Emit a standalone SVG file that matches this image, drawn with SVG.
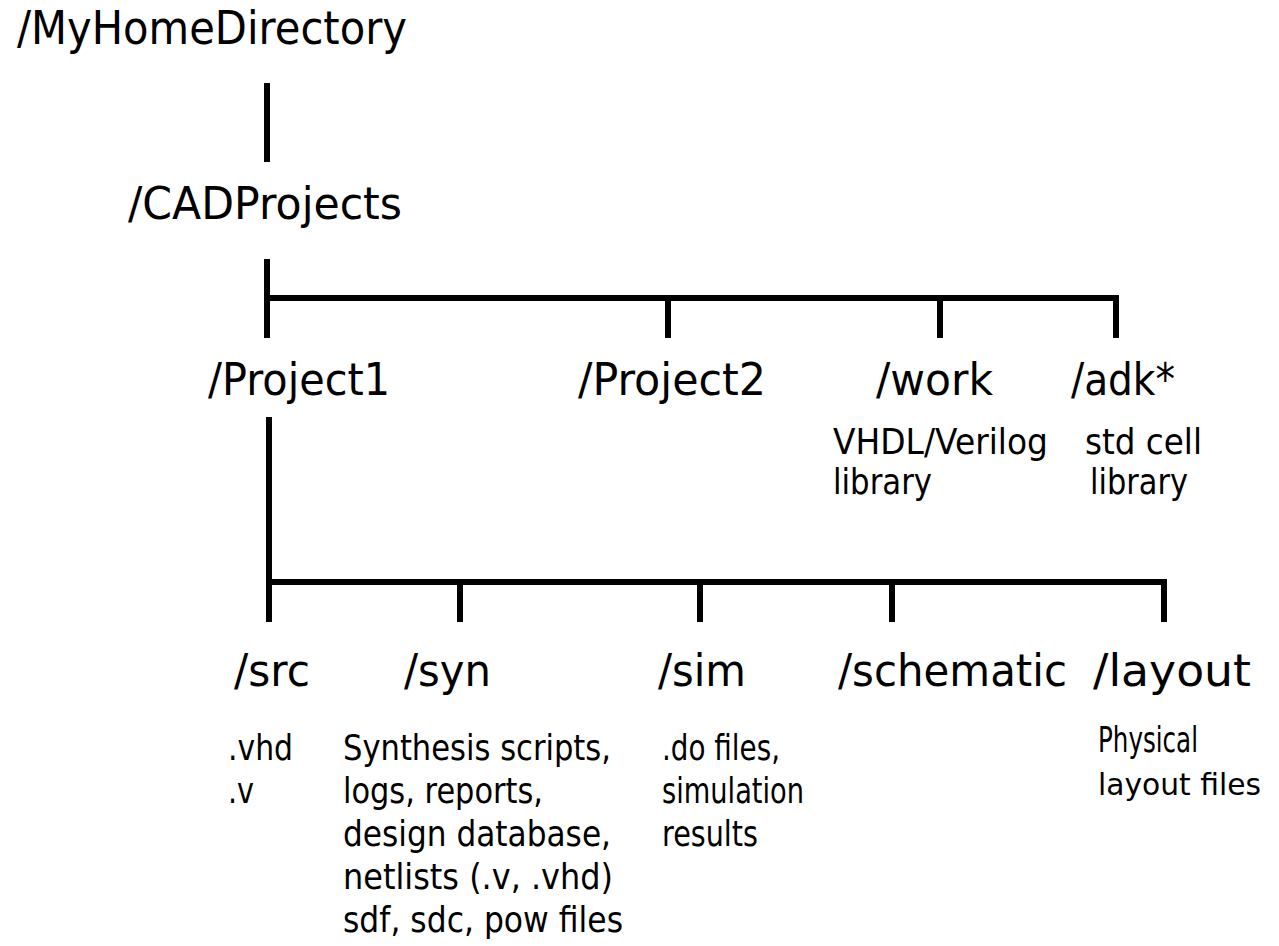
<svg xmlns="http://www.w3.org/2000/svg" width="1279" height="946" viewBox="0 0 1279 946">
<style>
.big{font-family:"DejaVu Sans","Liberation Sans",sans-serif;font-size:44px;fill:#000}
.small{font-family:"DejaVu Sans","Liberation Sans",sans-serif;font-size:35px;fill:#000}
.ln{stroke:#000;stroke-width:6;fill:none;stroke-linecap:butt}
</style>
<rect width="1279" height="946" fill="#fff"/>
<g id="connectors">
<path class="ln" d="M267,83 V162"/>
<path class="ln" d="M267,259 V338"/>
<path class="ln" d="M264,298 H1119"/>
<path class="ln" d="M668,298 V338"/>
<path class="ln" d="M940,298 V338"/>
<path class="ln" d="M1116,298 V338"/>
<path class="ln" d="M269,417 V622"/>
<path class="ln" d="M266,582 H1167"/>
<path class="ln" d="M460,582 V622"/>
<path class="ln" d="M700,582 V622"/>
<path class="ln" d="M892,582 V622"/>
<path class="ln" d="M1164,582 V622"/>
</g>
<g id="n-home"><text class="big" x="17" y="44" style="font-size:46px" textLength="390" lengthAdjust="spacingAndGlyphs">/MyHomeDirectory</text></g>
<g id="n-cad"><text class="big" x="128" y="219" textLength="274" lengthAdjust="spacingAndGlyphs">/CADProjects</text></g>
<g id="n-project1"><text class="big" x="208" y="395" textLength="182" lengthAdjust="spacingAndGlyphs">/Project1</text></g>
<g id="n-project2"><text class="big" x="578" y="395" textLength="188" lengthAdjust="spacingAndGlyphs">/Project2</text></g>
<g id="n-work">
<text class="big" x="876" y="395" textLength="117" lengthAdjust="spacingAndGlyphs">/work</text>
<text class="small" x="833" y="454" textLength="215" lengthAdjust="spacingAndGlyphs">VHDL/Verilog</text>
<text class="small" x="833" y="494" textLength="99" lengthAdjust="spacingAndGlyphs">library</text>
</g>
<g id="n-adk">
<text class="big" x="1071" y="395" textLength="104" lengthAdjust="spacingAndGlyphs">/adk*</text>
<text class="small" x="1085" y="454" textLength="117" lengthAdjust="spacingAndGlyphs">std cell</text>
<text class="small" x="1090" y="494" textLength="98" lengthAdjust="spacingAndGlyphs">library</text>
</g>
<g id="n-src">
<text class="big" x="234" y="686" textLength="76" lengthAdjust="spacingAndGlyphs">/src</text>
<text class="small" x="228" y="760" textLength="65" lengthAdjust="spacingAndGlyphs">.vhd</text>
<text class="small" x="228" y="803" textLength="26" lengthAdjust="spacingAndGlyphs">.v</text>
</g>
<g id="n-syn">
<text class="big" x="404" y="686" textLength="87" lengthAdjust="spacingAndGlyphs">/syn</text>
<text class="small" x="343" y="760" textLength="268" lengthAdjust="spacingAndGlyphs">Synthesis scripts,</text>
<text class="small" x="343" y="803" textLength="200" lengthAdjust="spacingAndGlyphs">logs, reports,</text>
<text class="small" x="343" y="846" textLength="268" lengthAdjust="spacingAndGlyphs">design database,</text>
<text class="small" x="343" y="889" textLength="270" lengthAdjust="spacingAndGlyphs">netlists (.v, .vhd)</text>
<text class="small" x="343" y="932" textLength="280" lengthAdjust="spacingAndGlyphs">sdf, sdc, pow files</text>
</g>
<g id="n-sim">
<text class="big" x="658" y="686" textLength="88" lengthAdjust="spacingAndGlyphs">/sim</text>
<text class="small" x="662" y="760" textLength="118" lengthAdjust="spacingAndGlyphs">.do files,</text>
<text class="small" x="662" y="803" textLength="142" lengthAdjust="spacingAndGlyphs">simulation</text>
<text class="small" x="662" y="846" textLength="96" lengthAdjust="spacingAndGlyphs">results</text>
</g>
<g id="n-schematic"><text class="big" x="838" y="686" textLength="229" lengthAdjust="spacingAndGlyphs">/schematic</text></g>
<g id="n-layout">
<text class="big" x="1093" y="686" textLength="158" lengthAdjust="spacingAndGlyphs">/layout</text>
<text class="small" x="1098" y="752" textLength="100" lengthAdjust="spacingAndGlyphs">Physical</text>
<text class="small" x="1098" y="795" style="font-size:31px" textLength="163" lengthAdjust="spacingAndGlyphs">layout files</text>
</g>
</svg>
